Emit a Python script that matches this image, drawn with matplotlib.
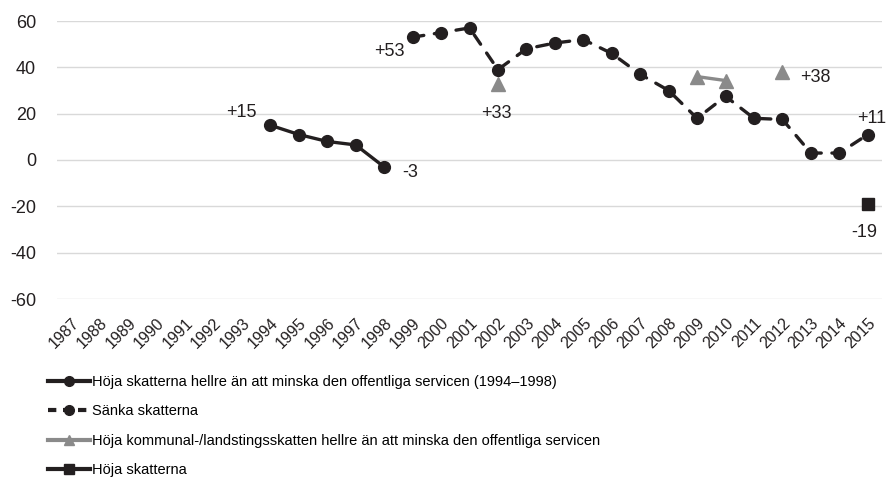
import numpy as np
import matplotlib.pyplot as plt
from matplotlib.lines import Line2D

years = list(range(1987, 2016))

# Höja skatterna hellre än att minska den offentliga servicen (1994–1998)
hoja_years = [1994, 1995, 1996, 1997, 1998]
hoja_vals = [15, 11, 8, 6.5, -3]

# Sänka skatterna
sanka_years = list(range(1999, 2016))
sanka_vals = [53, 55, 57, 39, 48, 50.5, 52, 46, 37, 30, 18, 27.5, 18, 17.5, 3, 3, 11]

# Höja kommunal-/landstingsskatten ...
kommun_years = [2002, 2009, 2010, 2012]
kommun_vals = [33, 36, 34.3, 38]

# Höja skatterna
skatt_years = [2015]
skatt_vals = [-19]

legend_labels = [
    "Höja skatterna hellre än att minska den offentliga servicen (1994–1998)",
    "Sänka skatterna",
    "Höja kommunal-/landstingsskatten hellre än att minska den offentliga servicen",
    "Höja skatterna",
]

# text, year, value, offset x/y in pixels, alignment
labels = [
    ("+15", 1994, 15, -14, 13, "right"),
    ("+53", 1999, 53, -8, -14, "right"),
    ("-3", 1998, -3, 18, -6, "left"),
    ("+33", 2002, 33, -2, -30, "center"),
    ("+38", 2012, 38, 18, -6, "left"),
    ("+11", 2015, 11, 4, 16, "center"),
    ("-19", 2015, -19, -4, -28, "center"),
]

plt.rcParams["font.family"] = ["Liberation Sans", "DejaVu Sans"]
plt.rcParams["axes.unicode_minus"] = False

black = "#231f20"
gray = "#8a8a8a"

fig = plt.figure(figsize=(8.9, 4.78), dpi=100)
ax = fig.add_axes([57 / 890, 1 - 299 / 478, 825 / 890, 278 / 478])

pos = {y: i for i, y in enumerate(years)}
def xs(yy):
    return [pos[y] for y in yy]

ax.plot(xs(hoja_years), hoja_vals, color=black, lw=2.4, marker="o", ms=8.5,
        solid_capstyle="round", zorder=4)
ax.plot(xs(sanka_years), sanka_vals, color=black, lw=2.4, marker="o", ms=8.5,
        dashes=(3.4, 3.2), dash_capstyle="round", zorder=4)
ax.plot(xs(kommun_years[1:3]), kommun_vals[1:3], color=gray, lw=2.4, zorder=3)
ax.plot(xs(kommun_years), kommun_vals, color=gray, lw=0, marker="^", ms=10, zorder=3)
ax.plot(xs(skatt_years), skatt_vals, color=black, lw=0, marker="s", ms=8.5, zorder=4)

for txt, yr, v, dx, dy, ha in labels:
    ax.annotate(txt, (pos[yr], v), xytext=(dx, dy), textcoords="offset pixels",
                ha=ha, va="center", fontsize=13, color=black)

ax.set_xlim(-0.5, len(years) - 0.5)
ax.set_ylim(-60, 60)
ax.set_yticks(np.arange(-60, 61, 20))
ax.set_xticks(range(len(years)))
ax.set_xticklabels([str(y) for y in years], rotation=45, ha="right", va="top",
                   rotation_mode="anchor", fontsize=11.5)
ax.tick_params(axis="y", labelsize=13, length=0, pad=15)
ax.tick_params(axis="x", length=0, pad=12, labelcolor=black)
ax.tick_params(axis="y", labelcolor=black)
ax.grid(axis="y", color="#d9d9d9", lw=1.0)
ax.set_axisbelow(True)
for s in ax.spines.values():
    s.set_visible(False)

h1 = Line2D([], [], color=black, lw=3, marker="o", ms=7)
h2 = Line2D([], [], color=black, lw=3, marker="o", ms=7, dashes=(2.0, 1.6))
h3 = Line2D([], [], color=gray, lw=3, marker="^", ms=7)
h4 = Line2D([], [], color=black, lw=3, marker="s", ms=7)
fig.legend([h1, h2, h3, h4], legend_labels,
           loc="upper left", bbox_to_anchor=(48 / 890, 1 - 375 / 478), frameon=False,
           handlelength=2.9, handletextpad=0.15, labelspacing=1.05,
           fontsize=10.5, borderpad=0, borderaxespad=0)

fig.savefig("out.png", dpi=100)
